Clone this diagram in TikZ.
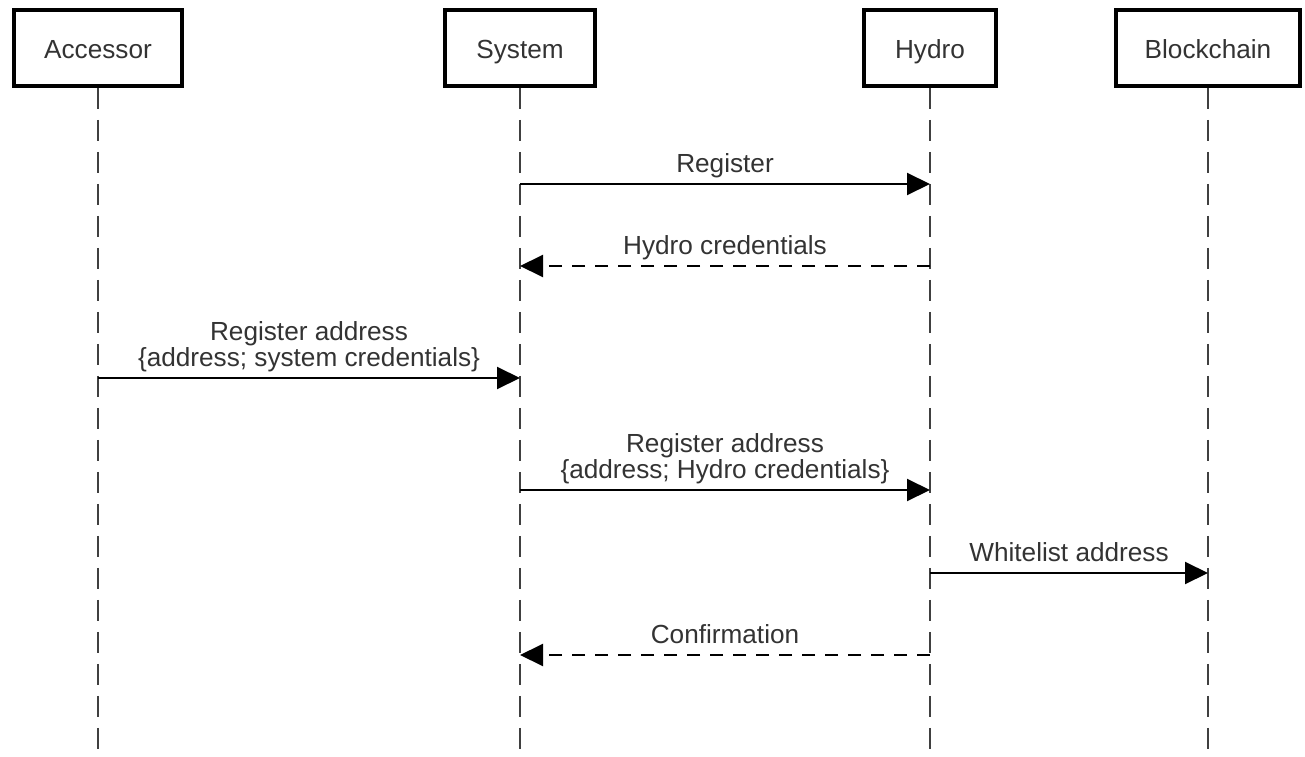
\documentclass[tikz,border=0pt]{standalone}
\usepackage{fontspec}
\setmainfont{Liberation Sans}
\usetikzlibrary{arrows.meta}
\begin{document}
\begin{tikzpicture}[x=0.02cm,y=-0.02cm,font=\fontsize{14.9}{14.8}\selectfont,
                actor/.style={draw,line width=0.08cm,minimum height=1.52cm,inner sep=0pt,text height=1.3em,text depth=0.1em,text=black!80},
                life/.style={black!75,line width=0.045cm,dash pattern=on 0.42cm off 0.22cm},
                msg/.style={line width=0.04cm,-{Triangle[length=0.46cm,width=0.44cm]}},
                reply/.style={msg,dash pattern=on 0.26cm off 0.2cm},
                lbl/.style={anchor=south,text depth=0pt,inner sep=0pt,yshift=0.22cm,align=center,text=black!80}]
                \useasboundingbox (0,0) rectangle (1305,757) ;
                \node [actor,minimum width=3.38cm] (acc) at (98,48) {Accessor} ;
                \node [actor,minimum width=3cm] (sys) at (520,48) {System} ;
                \node [actor,minimum width=2.64cm] (hyd) at (930,48) {Hydro} ;
                \node [actor,minimum width=3.7cm] (blk) at (1208,48) {Blockchain} ;
                \draw [life] (acc.south) -- (acc.south |- 0,760) ;
                \draw [life] (sys.south) -- (sys.south |- 0,760) ;
                \draw [life] (hyd.south) -- (hyd.south |- 0,760) ;
                \draw [life] (blk.south) -- (blk.south |- 0,760) ;
                \draw [msg] (sys |- 0,184) -- node [lbl] {Register} (hyd |- 0,184) ;
                \draw [reply] (hyd |- 0,266) -- node [lbl] {Hydro credentials} (sys |- 0,266) ;
                \draw [msg] (acc |- 0,378) -- node [lbl] {Register address\\\{address; system credentials\}} (sys |- 0,378) ;
                \draw [msg] (sys |- 0,490) -- node [lbl] {Register address\\\{address; Hydro credentials\}} (hyd |- 0,490) ;
                \draw [msg] (hyd |- 0,573) -- node [lbl] {Whitelist address} (blk |- 0,573) ;
                \draw [reply] (hyd |- 0,655) -- node [lbl] {Confirmation} (sys |- 0,655) ;
            \end{tikzpicture}
\end{document}
